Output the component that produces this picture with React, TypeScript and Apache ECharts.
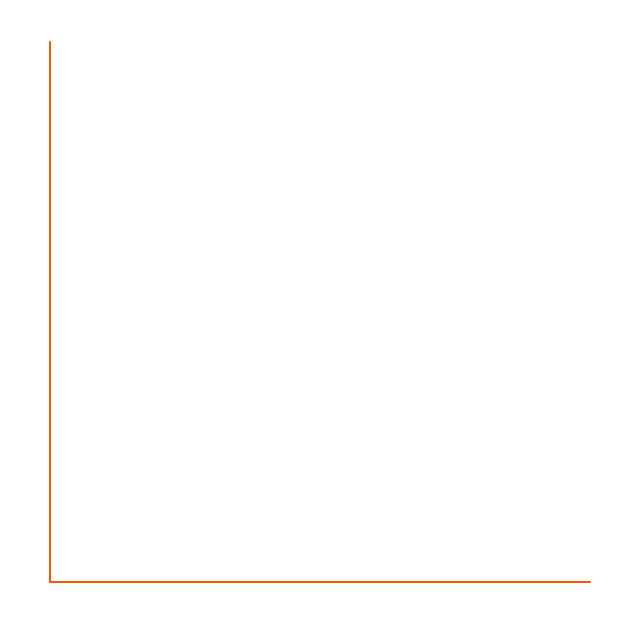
import { useEffect, useRef } from "react"
import * as echarts from "echarts"

// the reference shows only the two axes, with no marks drawn
const categories: string[] = []
const values: number[] = []

const AXIS_COLOR = "#ff5500"

export default function App() {
  const chartRef = useRef<HTMLDivElement>(null)

  useEffect(() => {
    if (!chartRef.current) return
    const chart = echarts.init(chartRef.current, undefined, { renderer: "svg" })

    const option: echarts.EChartsOption = {
      animation: false,
      grid: { left: 50, top: 42, right: 50, bottom: 58, containLabel: false },
      xAxis: {
        type: "category",
        data: categories,
        axisLine: { show: true, lineStyle: { color: AXIS_COLOR, width: 2 } },
        axisTick: { show: false },
        axisLabel: { show: false },
        splitLine: { show: false },
      },
      yAxis: {
        type: "value",
        axisLine: { show: true, lineStyle: { color: AXIS_COLOR, width: 2 } },
        axisTick: { show: false },
        axisLabel: { show: false },
        splitLine: { show: false },
      },
      series: [
        {
          type: "line",
          data: values,
          symbol: "none",
        },
      ],
    }

    chart.setOption(option)
    return () => chart.dispose()
  }, [])

  return (
    <div
      ref={chartRef}
      style={{ position: "fixed", left: 0, top: 0, width: 640, height: 640 }}
    />
  )
}
